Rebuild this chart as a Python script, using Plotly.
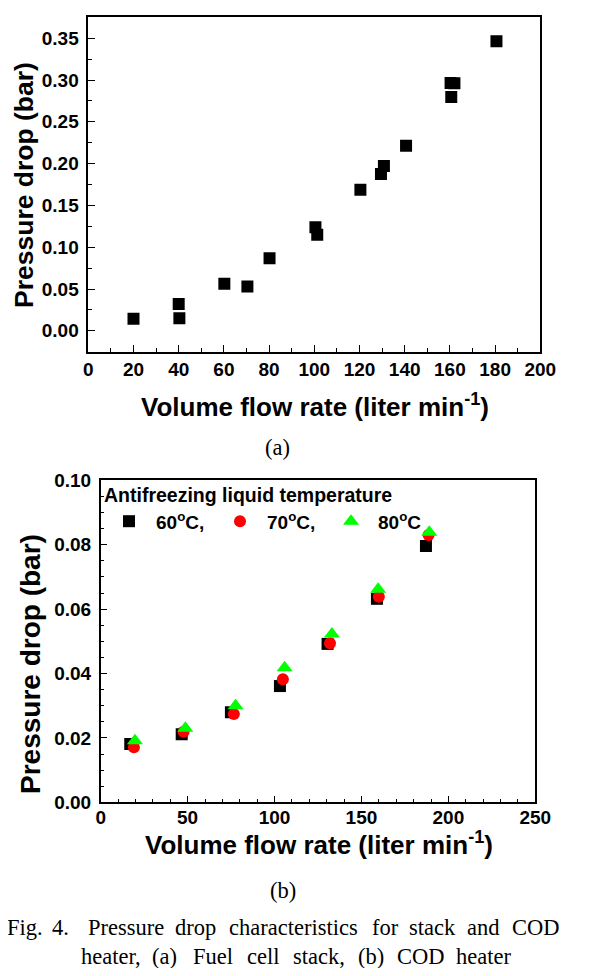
import plotly.graph_objects as go

# ---------------- data ----------------
# (a) Fuel cell stack
stack_flow = [20, 40, 40.3, 60.2, 70.4, 80.2, 100.5, 101.3, 120.4, 129.5, 130.8, 140.6, 160.3, 162, 160.6, 180.6]
stack_dp = [0.0143, 0.032, 0.015, 0.0563, 0.053, 0.0869, 0.1238, 0.115, 0.1686, 0.1876, 0.197, 0.2214, 0.2964, 0.296, 0.2798, 0.3464]

# (b) COD heater
cod_flow_60 = [17, 46.6, 74.9, 103.1, 130.5, 158.9, 187.1]
cod_dp_60 = [0.0181, 0.0211, 0.028, 0.0361, 0.0492, 0.0632, 0.0796]
cod_flow_70 = [19.1, 47.7, 76.6, 104.8, 131.9, 160, 188.6]
cod_dp_70 = [0.0171, 0.0219, 0.0274, 0.0382, 0.0494, 0.0638, 0.083]
cod_flow_80 = [19.7, 48.7, 77.6, 105.8, 133, 159.6, 189]
cod_dp_80 = [0.0191, 0.023, 0.030, 0.0418, 0.0523, 0.0662, 0.0839]

series_names = ["60<sup>o</sup>C,", "70<sup>o</sup>C,", "80<sup>o</sup>C"]
legend_title = "Antifreezing liquid temperature"
x_title = "Volume flow rate (liter min<sup>-1</sup>)"
y_title = "Pressure drop (bar)"

caption_line1 = ["Fig.", "4.", "Pressure", "drop", "characteristics", "for", "stack", "and", "COD"]
caption_line2 = ["heater,", "(a)", "Fuel", "cell", "stack,", "(b)", "COD", "heater"]

# ---------------- layout helpers ----------------
# The page body has an 8 px margin, so the figure is drawn 8 px in from the top-left.
OFF = 8
W, H = 590, 960
def px(x):
    return (x - OFF) / W
def py(y):
    return 1 - (y - OFF) / H

SANS = "Liberation Sans, Arial, sans-serif"
SERIF = "Liberation Serif, Times New Roman, serif"

fig = go.Figure()

fig.add_trace(go.Scatter(
    x=stack_flow, y=stack_dp, mode="markers", xaxis="x", yaxis="y",
    marker=dict(symbol="square", size=12, color="black"), showlegend=False))

fig.add_trace(go.Scatter(
    x=cod_flow_60, y=cod_dp_60, mode="markers", xaxis="x2", yaxis="y2", name=series_names[0],
    marker=dict(symbol="square", size=12, color="black")))
fig.add_trace(go.Scatter(
    x=cod_flow_70, y=cod_dp_70, mode="markers", xaxis="x2", yaxis="y2", name=series_names[1],
    marker=dict(symbol="circle", size=12, color="#ff0000")))
fig.add_trace(go.Scatter(
    x=cod_flow_80, y=cod_dp_80, mode="markers", xaxis="x2", yaxis="y2", name=series_names[2],
    marker=dict(symbol="triangle-up", size=14, color="#00ff00")))

axis_common = dict(
    showline=True, linecolor="black", linewidth=1.5, mirror=True,
    ticks="inside", ticklen=7, tickwidth=1.2, tickcolor="black",
    showgrid=False, zeroline=False, automargin=False,
    tickfont=dict(family=SANS, size=19, color="black", weight="bold"),
)

fig.update_layout(
    width=W, height=H,
    margin=dict(l=0, r=0, t=0, b=0, autoexpand=False),
    paper_bgcolor="white", plot_bgcolor="white",
    xaxis=dict(domain=[px(88.3), px(540.3)], anchor="y", range=[0, 200], dtick=20, tick0=0,
               minor=dict(dtick=10, ticks="inside", ticklen=4, tickcolor="black"),
               ticklabelstandoff=0, **axis_common),
    yaxis=dict(domain=[py(351.7), py(17.3)], anchor="x", range=[-0.025, 0.375], dtick=0.05, tick0=0,
               tickformat=".2f",
               minor=dict(dtick=0.025, tick0=0, ticks="inside", ticklen=4, tickcolor="black"),
               ticklabelstandoff=4, **axis_common),
    xaxis2=dict(domain=[px(100.7), px(535.3)], anchor="y2", range=[0, 250], dtick=50, tick0=0,
                minor=dict(dtick=10, ticks="inside", ticklen=4, tickcolor="black"),
                ticklabelstandoff=-3, **axis_common),
    yaxis2=dict(domain=[py(802.3), py(480.3)], anchor="x2", range=[0, 0.10], dtick=0.02, tick0=0,
                tickformat=".2f",
                minor=dict(dtick=0.005, tick0=0, ticks="inside", ticklen=4, tickcolor="black"),
                ticklabelstandoff=4, **axis_common),
    legend=dict(
        x=px(102), y=py(477), xanchor="left", yanchor="top",
        orientation="h", bgcolor="rgba(0,0,0,0)",
        title=dict(text=legend_title, side="top",
                   font=dict(family=SANS, size=19.5, color="black", weight="bold")),
        font=dict(family=SANS, size=19, color="black", weight="bold"),
        entrywidth=52, entrywidthmode="pixels", itemwidth=44,
    ),
)

ann = []
title_font = dict(family=SANS, size=26, color="black", weight="bold")
# axis titles (a)
ann.append(dict(text=x_title, x=px(315), y=py(405), xref="paper", yref="paper",
                showarrow=False, font=title_font, xanchor="center", yanchor="middle"))
ann.append(dict(text=y_title, x=px(24), y=py(185), xref="paper", yref="paper", textangle=-90,
                showarrow=False, font=dict(title_font, size=26.5), xanchor="center", yanchor="middle",
                borderpad=0))
# axis titles (b)
ann.append(dict(text=x_title, x=px(319), y=py(843), xref="paper", yref="paper",
                showarrow=False, font=title_font, xanchor="center", yanchor="middle"))
ann.append(dict(text=y_title, x=px(30), y=py(664), xref="paper", yref="paper", textangle=-90,
                showarrow=False, font=dict(title_font, size=28), xanchor="center", yanchor="middle",
                borderpad=0))

cap_font = dict(family=SERIF, size=22.5, color="black")
ann.append(dict(text="(a)", x=px(277), y=py(447), xref="paper", yref="paper",
                showarrow=False, font=cap_font, xanchor="center", yanchor="middle"))
ann.append(dict(text="(b)", x=px(283), y=py(890), xref="paper", yref="paper",
                showarrow=False, font=cap_font, xanchor="center", yanchor="middle"))

line1_cx = [25, 60.5, 125.5, 195.5, 293, 385, 432.5, 483.5, 536]
line2_cx = [110.5, 164, 213, 262.5, 319.5, 370.5, 421, 483.5]
for w, xx in zip(caption_line1, line1_cx):
    ann.append(dict(text=w, x=px(xx), y=py(927), xref="paper", yref="paper",
                    showarrow=False, font=cap_font, xanchor="center", yanchor="middle"))
for w, xx in zip(caption_line2, line2_cx):
    ann.append(dict(text=w, x=px(xx), y=py(956), xref="paper", yref="paper",
                    showarrow=False, font=cap_font, xanchor="center", yanchor="middle"))

fig.update_layout(annotations=ann)

fig.write_html("out.html")
